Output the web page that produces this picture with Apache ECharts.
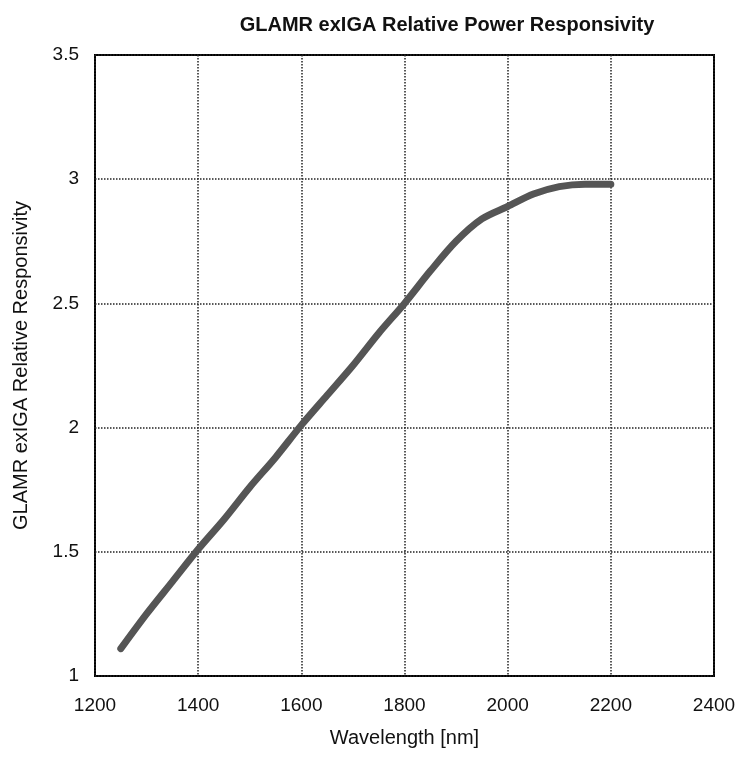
<!DOCTYPE html>
<html>
<head>
<meta charset="utf-8">
<script src="https://cdn.jsdelivr.net/npm/echarts@6/dist/echarts.min.js"></script>
<style>
  html, body { margin: 0; padding: 0; background: #fff; }
  #chart { width: 740px; height: 758px; }
</style>
</head>
<body>
<div id="chart"></div>
<script>
// wavelength in nm and relative responsivity
const wavelengths = [1250, 1300, 1350, 1400, 1450, 1500, 1550, 1600, 1650, 1700,
                     1750, 1800, 1850, 1900, 1950, 2000, 2050, 2100, 2150, 2200];
const responsivity = [1.11, 1.25, 1.38, 1.51, 1.63, 1.76, 1.88, 2.01, 2.13, 2.25,
                      2.38, 2.50, 2.63, 2.75, 2.84, 2.89, 2.94, 2.97, 2.98, 2.98];

const font = 'Liberation Sans, Arial, sans-serif';
const chart = echarts.init(document.getElementById('chart'));

const points = wavelengths.map((w, i) => [w, responsivity[i]]);

chart.setOption({
  animation: false,
  title: {
    text: 'GLAMR exIGA Relative Power Responsivity',
    left: 442,
    textAlign: 'center',
    top: 10,
    textStyle: { fontFamily: font, fontSize: 20, fontWeight: 'bold', color: '#111' }
  },
  grid: {
    left: 95, right: 26, top: 55, bottom: 82,
    show: true, borderColor: '#000', borderWidth: 2
  },
  xAxis: {
    type: 'value',
    min: 1200, max: 2400, interval: 200,
    name: 'Wavelength [nm]',
    nameLocation: 'middle',
    nameGap: 52,
    nameTextStyle: { fontFamily: font, fontSize: 20, color: '#111' },
    axisLine: { show: false },
    axisTick: { show: false },
    axisLabel: {
      fontFamily: font, fontSize: 19, color: '#111', margin: 20,
      formatter: v => String(v)
    },
    splitLine: { lineStyle: { type: 'dotted', color: '#222', width: 1.5 } }
  },
  yAxis: {
    type: 'value',
    min: 1, max: 3.5, interval: 0.5,
    name: 'GLAMR exIGA Relative Responsivity',
    nameLocation: 'middle',
    nameGap: 64,
    nameTextStyle: { fontFamily: font, fontSize: 20, color: '#111' },
    axisLine: { show: false },
    axisTick: { show: false },
    axisLabel: { fontFamily: font, fontSize: 19, color: '#111', margin: 16 },
    splitLine: { lineStyle: { type: 'dotted', color: '#222', width: 1.5 } }
  },
  series: [{
    type: 'line',
    data: points,
    smooth: 0.3,
    showSymbol: false,
    lineStyle: { color: '#555', width: 7, cap: 'round' }
  }]
});
</script>
</body>
</html>
